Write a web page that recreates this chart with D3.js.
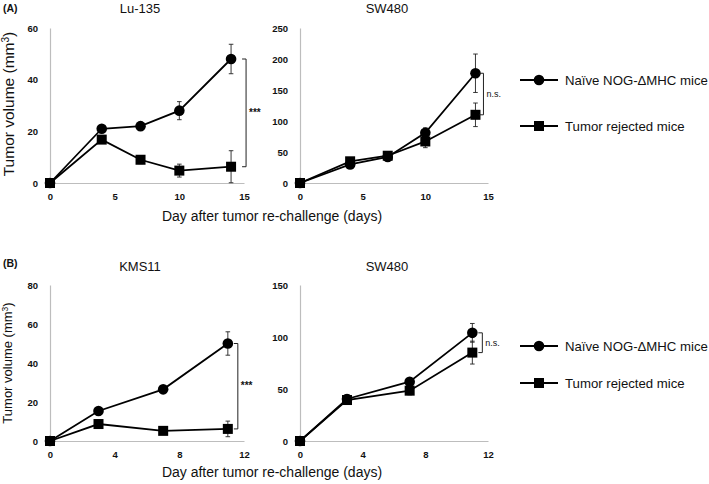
<!DOCTYPE html>
<html>
<head>
<meta charset="utf-8">
<script src="https://cdn.jsdelivr.net/npm/d3@7/dist/d3.min.js"></script>
<style>
  html, body { margin: 0; padding: 0; background: #fff; }
  svg { display: block; font-family: "Liberation Sans", Arial, sans-serif; }
</style>
</head>
<body>
<svg id="chart" width="709" height="484"></svg>
<script>
// ---------- DATA ----------
const seriesNames = ["Naïve NOG-ΔMHC mice", "Tumor rejected mice"];

// Panel A left: Lu-135
const luDays = [0, 4, 7, 10, 14];
const luNaive = [0, 21, 22, 28, 48];
const luNaiveErr = [0, 1, 1.5, 3.5, 5.7];
const luRejected = [0, 16.8, 9, 4.8, 6.3];
const luRejectedErr = [0, 1, 1.5, 2.5, 6.2];
const luXTicks = [0, 5, 10, 15];
const luYTicks = [0, 20, 40, 60];

// Panel A right: SW480
const swADays = [0, 4, 7, 10, 14];
const swANaive = [0, 30, 42, 81, 177];
const swANaiveErr = [0, 3, 3, 8, 31];
const swARejected = [0, 35, 44, 67, 110];
const swARejectedErr = [0, 3, 3, 10, 19];
const swAXTicks = [0, 5, 10, 15];
const swAYTicks = [0, 50, 100, 150, 200, 250];

// Panel B left: KMS11
const kmsDays = [0, 3, 7, 11];
const kmsNaive = [0, 15.4, 26.5, 50];
const kmsNaiveErr = [0, 1, 1, 6];
const kmsRejected = [0, 8.7, 5.2, 6.2];
const kmsRejectedErr = [0, 1, 1, 4];
const kmsXTicks = [0, 4, 8, 12];
const kmsYTicks = [0, 20, 40, 60, 80];

// Panel B right: SW480
const swBDays = [0, 3, 7, 11];
const swBNaive = [0, 40.4, 57, 104];
const swBNaiveErr = [0, 4, 3, 9];
const swBRejected = [0, 39.4, 48.4, 85];
const swBRejectedErr = [0, 4, 4, 11];
const swBXTicks = [0, 4, 8, 12];
const swBYTicks = [0, 50, 100, 150];

const titles = ["Lu-135", "SW480", "KMS11", "SW480"];
const sigLabels = ["***", "n.s.", "***", "n.s."];
const panelLetters = ["(A)", "(B)"];
const xAxisLabel = "Day after tumor re-challenge (days)";

// ---------- LAYOUT ----------
const svg = d3.select("#chart");
const font = "'Liberation Sans', Arial, sans-serif";

const panels = [
  { title: titles[0], days: luDays, naive: luNaive, naiveErr: luNaiveErr, rej: luRejected, rejErr: luRejectedErr,
    xt: luXTicks, yt: luYTicks, xr: [50, 244], yr: [183, 28], brOff: 15, sig: sigLabels[0] },
  { title: titles[1], days: swADays, naive: swANaive, naiveErr: swANaiveErr, rej: swARejected, rejErr: swARejectedErr,
    xt: swAXTicks, yt: swAYTicks, xr: [300, 488], yr: [183, 28], brOff: 8, sig: sigLabels[1] },
  { title: titles[2], days: kmsDays, naive: kmsNaive, naiveErr: kmsNaiveErr, rej: kmsRejected, rejErr: kmsRejectedErr,
    xt: kmsXTicks, yt: kmsYTicks, xr: [50, 244], yr: [441, 285], brOff: 10, sig: sigLabels[2] },
  { title: titles[3], days: swBDays, naive: swBNaive, naiveErr: swBNaiveErr, rej: swBRejected, rejErr: swBRejectedErr,
    xt: swBXTicks, yt: swBYTicks, xr: [300, 488], yr: [441, 285], brOff: 10, sig: sigLabels[3] }
];

const titleY = [13, 271];

panels.forEach((p, i) => {
  const g = svg.append("g");
  const x = d3.scaleLinear().domain([p.xt[0], p.xt[p.xt.length - 1]]).range(p.xr);
  const y = d3.scaleLinear().domain([p.yt[0], p.yt[p.yt.length - 1]]).range(p.yr);

  // axes
  const xa = g.append("g").attr("transform", `translate(0,${y(0)})`)
    .call(d3.axisBottom(x).tickValues(p.xt).tickSize(0).tickSizeOuter(0).tickPadding(10));
  const ya = g.append("g").attr("transform", `translate(${x(0)},0)`)
    .call(d3.axisLeft(y).tickValues(p.yt).tickSize(0).tickSizeOuter(0).tickPadding(12));
  [xa, ya].forEach(a => {
    a.select(".domain").attr("stroke", "#bdbdbd").attr("stroke-width", 1.2);
    a.selectAll("text").attr("font-family", font).attr("font-size", 9.5)
      .attr("font-weight", "bold").attr("fill", "#111");
  });

  // title
  g.append("text").attr("x", (p.xr[0] + p.xr[1]) / 2 - 7).attr("y", titleY[Math.floor(i / 2)])
    .attr("text-anchor", "middle").attr("font-size", 13).attr("font-family", font)
    .attr("fill", "#111").text(p.title);

  const series = [
    { v: p.naive, e: p.naiveErr, shape: "circle" },
    { v: p.rej, e: p.rejErr, shape: "square" }
  ];
  const line = d3.line().x((d, j) => x(p.days[j])).y(d => y(d));

  series.forEach(s => {
    // error bars
    s.v.forEach((v, j) => {
      if (!s.e[j]) return;
      const cx = x(p.days[j]);
      const y1 = y(v + s.e[j]), y2 = y(v - s.e[j]);
      g.append("line").attr("x1", cx).attr("x2", cx).attr("y1", y1).attr("y2", y2)
        .attr("stroke", "#222").attr("stroke-width", 0.9);
      [y1, y2].forEach(yy => g.append("line").attr("x1", cx - 2.3).attr("x2", cx + 2.3)
        .attr("y1", yy).attr("y2", yy).attr("stroke", "#222").attr("stroke-width", 0.9));
    });
  });
  series.forEach(s => {
    g.append("path").datum(s.v).attr("d", line).attr("fill", "none")
      .attr("stroke", "#000").attr("stroke-width", 1.8);
  });
  series.forEach(s => {
    s.v.forEach((v, j) => {
      const cx = x(p.days[j]), cy = y(v);
      if (s.shape === "circle") {
        g.append("circle").attr("cx", cx).attr("cy", cy).attr("r", 5.3).attr("fill", "#000");
      } else {
        g.append("rect").attr("x", cx - 5).attr("y", cy - 5).attr("width", 10).attr("height", 10).attr("fill", "#000");
      }
    });
  });

  // significance bracket
  const last = p.days.length - 1;
  const bx = x(p.days[last]) + p.brOff;
  const yt = y(p.naive[last]), yb = y(p.rej[last]);
  g.append("path").attr("d", `M${bx - 4},${yt}H${bx}V${yb}H${bx - 4}`)
    .attr("fill", "none").attr("stroke", "#222").attr("stroke-width", 1);
  g.append("text").attr("x", bx + 3).attr("y", (yt + yb) / 2 + 3)
    .attr("font-size", p.sig === "***" ? 10 : 9).attr("font-family", font)
    .attr("font-weight", p.sig === "***" ? "bold" : "normal")
    .attr("fill", "#111").text(p.sig);
});

// panel letters
[[3, 11.5], [3, 267]].forEach((pos, i) => {
  svg.append("text").attr("x", pos[0]).attr("y", pos[1]).attr("font-size", 10.5)
    .attr("font-weight", "bold").attr("font-family", font).attr("fill", "#111").text(panelLetters[i]);
});

// y axis labels
[[14, 104, 15.5], [12, 363, 13]].forEach(([lx, ly, fs]) => {
  const t = svg.append("text").attr("transform", `translate(${lx},${ly}) rotate(-90)`)
    .attr("text-anchor", "middle").attr("font-size", fs).attr("font-family", font).attr("fill", "#111");
  t.append("tspan").text("Tumor volume (mm");
  t.append("tspan").attr("font-size", fs * 0.65).attr("dy", -fs * 0.34).text("3");
  t.append("tspan").attr("dy", fs * 0.34).text(")");
});

// x axis labels
[221, 477].forEach(ly => {
  svg.append("text").attr("x", 272).attr("y", ly).attr("text-anchor", "middle")
    .attr("font-size", 14).attr("font-family", font).attr("fill", "#111").text(xAxisLabel);
});

// legends
[[80, 126], [346, 383]].forEach(rows => {
  rows.forEach((ry, k) => {
    svg.append("line").attr("x1", 520).attr("x2", 558).attr("y1", ry).attr("y2", ry)
      .attr("stroke", "#000").attr("stroke-width", 1.8);
    if (k === 0) svg.append("circle").attr("cx", 539).attr("cy", ry).attr("r", 5.3).attr("fill", "#000");
    else svg.append("rect").attr("x", 534).attr("y", ry - 5).attr("width", 10).attr("height", 10).attr("fill", "#000");
    svg.append("text").attr("x", 565).attr("y", ry + 4.7).attr("font-size", 13.2)
      .attr("font-family", font).attr("fill", "#111").text(seriesNames[k]);
  });
});
</script>
</body>
</html>
